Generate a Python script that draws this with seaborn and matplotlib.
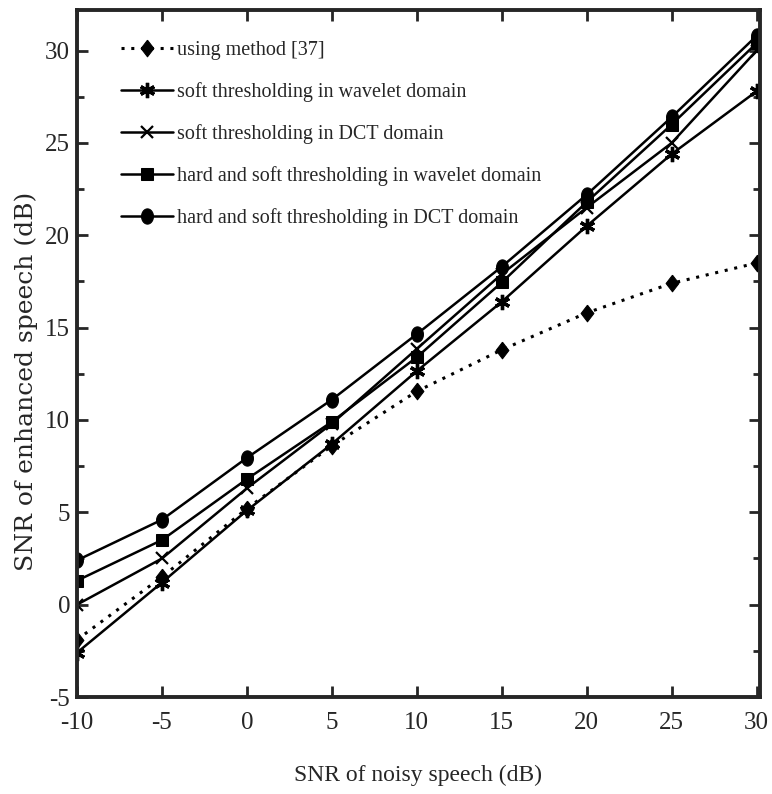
import matplotlib
matplotlib.use("Agg")
import matplotlib.pyplot as plt
import seaborn as sns
import numpy as np
from matplotlib.ticker import MultipleLocator

snr_noisy = [-10, -5, 0, 5, 10, 15, 20, 25, 30]
method37 = [-1.9, 1.5, 5.2, 8.6, 11.55, 13.8, 15.8, 17.4, 18.5]
soft_wavelet = [-2.6, 1.2, 5.1, 8.7, 12.65, 16.4, 20.5, 24.4, 27.8]
soft_dct = [0.0, 2.5, 6.3, 9.8, 13.85, 17.9, 21.5, 25.0, 30.0]
hs_wavelet = [1.3, 3.5, 6.8, 9.9, 13.4, 17.45, 21.8, 26.0, 30.4]
hs_dct = [2.4, 4.6, 7.95, 11.1, 14.65, 18.3, 22.2, 26.4, 30.8]

labels = ["using method [37]",
          "soft thresholding in wavelet domain",
          "soft thresholding in DCT domain",
          "hard and soft thresholding in wavelet domain",
          "hard and soft thresholding in DCT domain"]
x_ticks = [-10, -5, 0, 5, 10, 15, 20, 25, 30]
y_ticks = [-5, 0, 5, 10, 15, 20, 25, 30]

sns.set_style("ticks")
plt.rcParams['font.family'] = ['Liberation Serif', 'DejaVu Serif']

fig = plt.figure(figsize=(7.72, 7.94), dpi=100)
ax_px_w = 760 - 77
ax_px_h = 697 - 10
ax = fig.add_axes([77/772, 1-697/794, ax_px_w/772, ax_px_h/794])

# marker shapes
diamond = [(0, 1.3), (1, 0), (0, -1.3), (-1, 0), (0, 1.3)]
t = np.linspace(0, 2*np.pi, 40)
ellipse = list(zip(0.78*np.cos(t), np.sin(t)))

series = [method37, soft_wavelet, soft_dct, hs_wavelet, hs_dct]
styles = [
    dict(linestyle=(0, (1, 2.2)), marker=diamond, markersize=12, linewidth=2.2),
    dict(linestyle='-', marker=(6, 2, 0), markersize=11, markeredgewidth=2.4, linewidth=1.8),
    dict(linestyle='-', marker='x', markersize=9, markeredgewidth=1.6, linewidth=1.8),
    dict(linestyle='-', marker='s', markersize=9, linewidth=1.8),
    dict(linestyle='-', marker=ellipse, markersize=11, linewidth=1.8),
]
for vals, lab, st in zip(series, labels, styles):
    sns.lineplot(x=snr_noisy, y=vals, ax=ax, color='black', label=lab,
                 markeredgecolor='black', markerfacecolor='black', **st)

ax.set_xlim(-10, 30.2)
ax.set_ylim(-5, 32.2)
ax.set_xticks(x_ticks)
ax.set_yticks(y_ticks)
ax.set_xticklabels([str(t) for t in x_ticks])
ax.set_yticklabels([str(t) for t in y_ticks])
ax.yaxis.set_minor_locator(MultipleLocator(2.5))
ax.tick_params(which='major', direction='in', length=8, width=2, labelsize=18,
               top=True, right=True)
ax.tick_params(axis='x', which='major', pad=11)
ax.tick_params(axis='y', which='major', pad=5)
ax.tick_params(which='minor', direction='in', length=5, width=2, right=True, left=True)
for s in ax.spines.values():
    s.set_linewidth(2.8)
    s.set_visible(True)

ax.set_xlabel("SNR of noisy speech (dB)", fontsize=17, labelpad=22)
ax.set_ylabel("SNR of enhanced speech (dB)", fontsize=18, family='DejaVu Serif')
ax.yaxis.set_label_coords((38 - 77) / ax_px_w, 1 - (381 - 10) / ax_px_h)

leg = ax.legend(loc='upper left', bbox_to_anchor=(44/ax_px_w, 1 - 31/ax_px_h), frameon=False,
                fontsize=14.5, handlelength=2.6, handletextpad=0.2, labelspacing=1.1,
                borderaxespad=0, borderpad=0)

fig.savefig("out.png", dpi=100)
